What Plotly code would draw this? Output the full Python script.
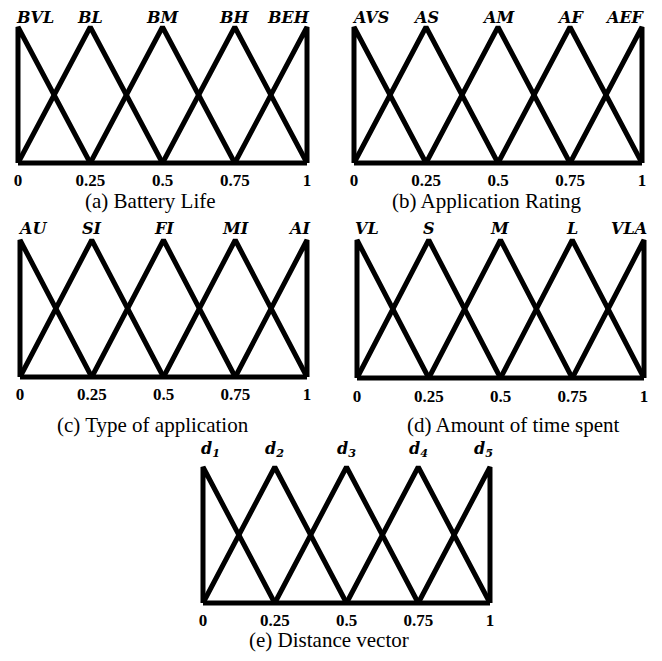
import plotly.graph_objects as go

# Fuzzy membership functions for the five input/output variables.
PAGE_W, PAGE_H = 662, 661
OFF = 8  # default body margin of the html page
W, H = PAGE_W - OFF, PAGE_H - OFF

peaks = [0, 0.25, 0.5, 0.75, 1]
half_width = 0.25
tick_vals = [0, 0.25, 0.5, 0.75, 1]
tick_text = ["0", "0.25", "0.5", "0.75", "1"]

battery_terms = ["BVL", "BL", "BM", "BH", "BEH"]
rating_terms = ["AVS", "AS", "AM", "AF", "AEF"]
type_terms = ["AU", "SI", "FI", "MI", "AI"]
time_terms = ["VL", "S", "M", "L", "VLA"]
distance_terms = ["d<sub>1</sub>", "d<sub>2</sub>", "d<sub>3</sub>", "d<sub>4</sub>", "d<sub>5</sub>"]

captions = ["(a) Battery Life", "(b) Application Rating", "(c) Type of application",
            "(d) Amount of time spent", "(e) Distance vector"]
term_sets = [battery_terms, rating_terms, type_terms, time_terms, distance_terms]

# page-pixel boxes of each panel (line centres): x0, x1, y0, y1
boxes = [(18, 307, 27, 163), (354, 642, 27, 163), (20, 307, 240, 377),
         (357, 644, 240, 378), (203, 490, 467, 603)]
caption_pos = [(150, 201), (486, 201), (153, 425), (513, 425), (329, 640)]

pad_x, pad_y = 0.02, 0.04


def domain(x0, x1, y0, y1):
    x0, x1, y0, y1 = x0 - OFF, x1 - OFF, y0 - OFF, y1 - OFF
    dx = (x1 - x0) * pad_x
    dy = (y1 - y0) * pad_y
    return [(x0 - dx) / W, (x1 + dx) / W], [1 - (y1 + dy) / H, 1 - (y0 - dy) / H]


fig = go.Figure()
layout = {}
annotations = []

for i, (terms, box) in enumerate(zip(term_sets, boxes)):
    n = "" if i == 0 else str(i + 1)
    xd, yd = domain(*box)
    for p in peaks:
        fig.add_trace(go.Scatter(
            x=[max(p - half_width, 0), p, min(p + half_width, 1)], y=[0, 1, 0],
            mode="lines", line=dict(color="black", width=5),
            xaxis="x" + n, yaxis="y" + n, showlegend=False, hoverinfo="skip"))
    fig.add_trace(go.Scatter(
        x=[0, 1], y=[0, 0], mode="lines", line=dict(color="black", width=5),
        xaxis="x" + n, yaxis="y" + n, showlegend=False, hoverinfo="skip"))

    layout["xaxis" + n] = dict(
        domain=xd, range=[-pad_x, 1 + pad_x], anchor="y" + n,
        showgrid=False, zeroline=False, showline=False,
        tickvals=tick_vals, ticktext=tick_text, ticks="",
        tickfont=dict(family="Liberation Serif", size=17, color="black", weight="bold"))
    layout["yaxis" + n] = dict(
        domain=yd, range=[-pad_y, 1 + pad_y], anchor="x" + n,
        showgrid=False, zeroline=False, showline=False, showticklabels=False)

    for j, (p, t) in enumerate(zip(peaks, terms)):
        xanchor = "left" if j == 0 else ("right" if j == len(peaks) - 1 else "center")
        annotations.append(dict(
            x=p, y=1, xref="x" + n, yref="y" + n, text="<b><i>" + t + "</i></b>",
            showarrow=False, xanchor=xanchor, yanchor="bottom",
            yshift=5 if i == 4 else (-2 if i < 2 else 0),
            xshift=-4 if j == 0 else (5 if j == len(peaks) - 1 else 0),
            font=dict(family="DejaVu Serif", size=16, color="black")))

for cap, (cx, cy) in zip(captions, caption_pos):
    annotations.append(dict(
        x=(cx - OFF) / W, y=1 - (cy - OFF) / H, xref="paper", yref="paper", text=cap,
        showarrow=False, xanchor="center", yanchor="middle",
        font=dict(family="Liberation Serif", size=21, color="black")))

fig.update_layout(
    width=W, height=H, margin=dict(l=0, r=0, t=0, b=0),
    paper_bgcolor="white", plot_bgcolor="white",
    annotations=annotations, **layout)

fig.write_html("out.html")
